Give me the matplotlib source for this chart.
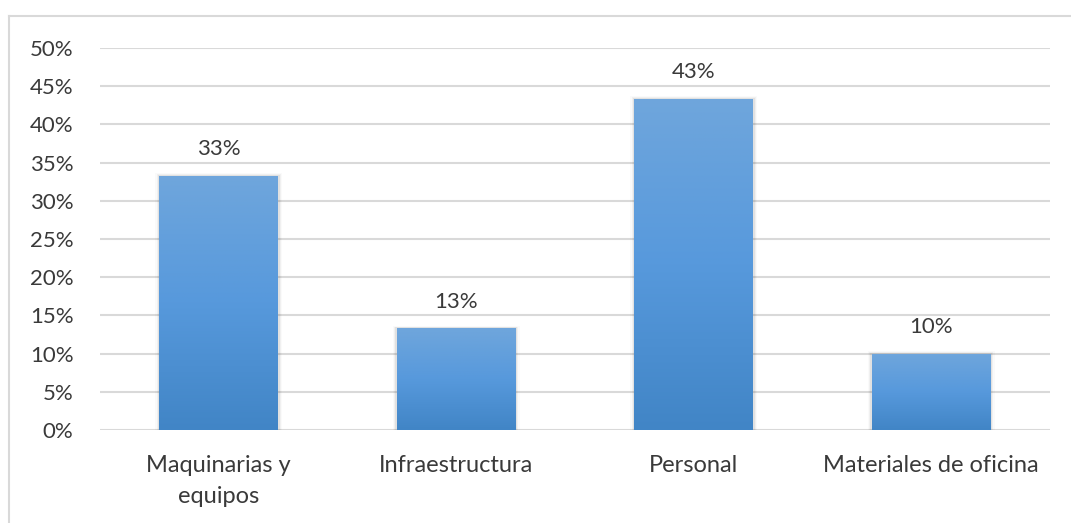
import matplotlib
matplotlib.use("Agg")
import matplotlib.pyplot as plt
import numpy as np
from matplotlib.colors import LinearSegmentedColormap
from matplotlib.patches import Rectangle

categories = ["Maquinarias y\nequipos", "Infraestructura", "Personal", "Materiales de oficina"]
shares = [0.333, 0.133, 0.433, 0.100]
y_ticks = [0.0, 0.05, 0.10, 0.15, 0.20, 0.25, 0.30, 0.35, 0.40, 0.45, 0.50]

plt.rcParams["font.family"] = ["Lato", "DejaVu Sans"]
TXT = "#3a3a3a"

fig = plt.figure(figsize=(10.71, 5.23), dpi=100)
fig.patch.set_facecolor("white")

# light frame around the chart (left and top edges visible)
fig.add_artist(plt.Line2D([9 / 1071, 9 / 1071], [0, 1 - 16 / 523], color="#d9d9d9", lw=1.5))
fig.add_artist(plt.Line2D([9 / 1071, 1], [1 - 16 / 523, 1 - 16 / 523], color="#d9d9d9", lw=1.5))

ax = fig.add_axes([100 / 1071, 1 - 430 / 523, 950 / 1071, 382 / 523])
x = np.arange(len(categories))

for t in y_ticks:
    ax.axhline(t, color="#d9d9d9", lw=1.5, zorder=0)

grad = LinearSegmentedColormap.from_list("bar", ["#4185c6", "#5799dc", "#6fa6dc"])
bar_w = 0.5
bars = ax.bar(x, shares, width=bar_w, color="none", zorder=2)
for b, v in zip(bars, shares):
    x0 = b.get_x()
    # soft shadow
    for k, a in enumerate([0.06, 0.04, 0.02]):
        d = 0.006 * (k + 1)
        ax.add_patch(Rectangle((x0 - d, 0), bar_w + 2 * d, v + d * 0.2,
                               color="black", alpha=a, lw=0, zorder=1))
    im = ax.imshow(np.linspace(0, 1, 256).reshape(-1, 1), cmap=grad, aspect="auto",
                   extent=[x0, x0 + bar_w, 0, v], origin="lower", zorder=2)
    im.set_clip_path(b)
    ax.text(x0 + bar_w / 2, v + 0.022, f"{v:.0%}", ha="center", va="bottom",
            fontsize=16, color=TXT)

ax.set_xlim(-0.5, len(categories) - 0.5)
ax.set_ylim(0, 0.5)
ax.set_xticks(x)
ax.set_xticklabels(categories, fontsize=17, color=TXT, linespacing=1.6)
ax.set_yticks(y_ticks)
ax.set_yticklabels([f"{t:.0%}" for t in y_ticks], fontsize=16, color=TXT)
ax.tick_params(axis="y", length=0, pad=19)
ax.tick_params(axis="x", length=0, pad=18)
for s in ax.spines.values():
    s.set_visible(False)

fig.savefig("out.png", dpi=100, facecolor="white")
